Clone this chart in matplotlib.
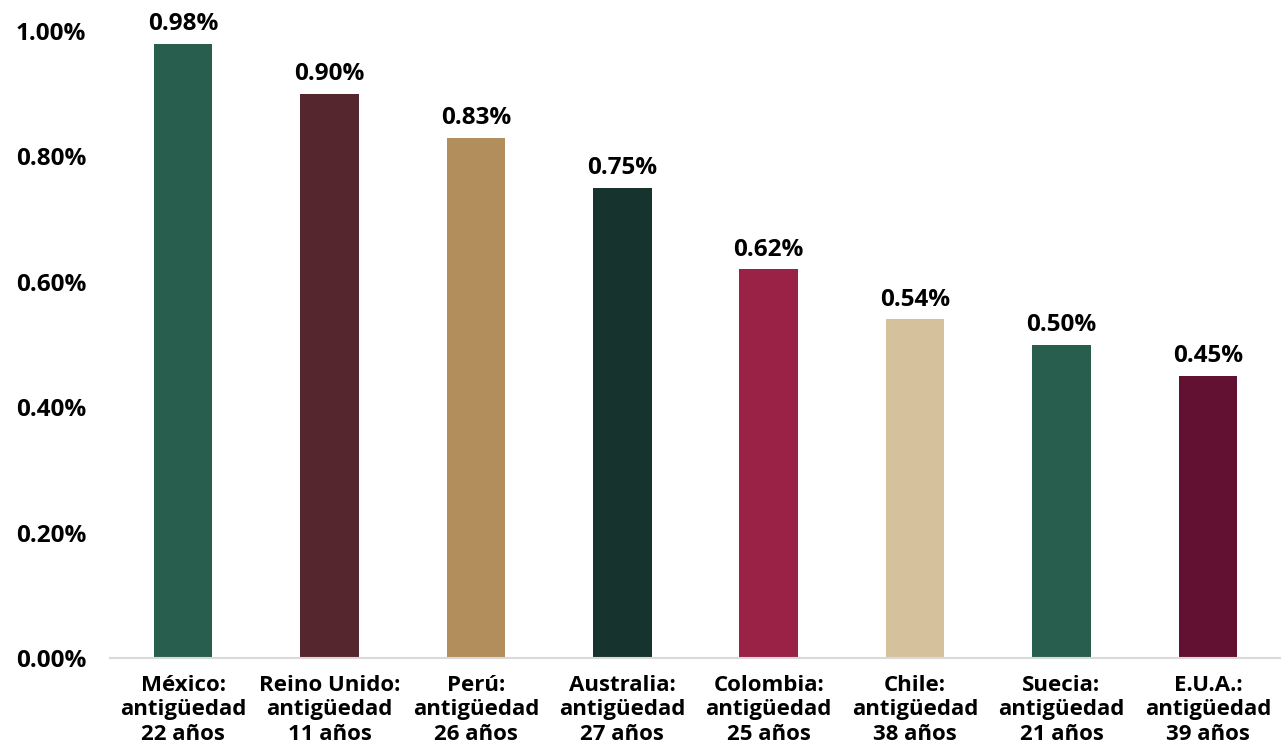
import matplotlib
matplotlib.use("Agg")
import matplotlib.pyplot as plt
from matplotlib.ticker import FuncFormatter

categories = ["México:\nantigüedad\n22 años", "Reino Unido:\nantigüedad\n11 años",
              "Perú:\nantigüedad\n26 años", "Australia:\nantigüedad\n27 años",
              "Colombia:\nantigüedad\n25 años", "Chile:\nantigüedad\n38 años",
              "Suecia:\nantigüedad\n21 años", "E.U.A.:\nantigüedad\n39 años"]
values = [0.98, 0.90, 0.83, 0.75, 0.62, 0.54, 0.50, 0.45]
colors = ["#285E4E", "#56262E", "#B28E5C", "#17332E", "#9B2247", "#D5C29C", "#285E4E", "#621132"]
yticks = [0.0, 0.2, 0.4, 0.6, 0.8, 1.0]

plt.rcParams['font.family'] = ['Open Sans', 'DejaVu Sans']
fig = plt.figure(figsize=(12.81, 7.49), dpi=100)
ax = fig.add_axes([110/1281, 91/749, 1171/1281, 627/749])
x = range(len(values))
bars = ax.bar(x, values, width=0.4, color=colors)
for xi, v in zip(x, values):
    ax.text(xi, v + 0.012, f"{v:.2f}%", ha='center', va='bottom', fontsize=17.5,
            fontweight='bold', clip_on=False)
ax.set_xlim(-0.5, 7.5)
ax.set_ylim(0, 1.0)
ax.set_yticks(yticks)
ax.yaxis.set_major_formatter(FuncFormatter(lambda v, p: f"{v:.2f}%"))
ax.set_xticks(list(x))
ax.set_xticklabels(categories, fontsize=16, fontweight='bold', linespacing=1.22)
for lab in ax.get_yticklabels():
    lab.set_fontsize(17.5)
    lab.set_fontweight('bold')
ax.tick_params(axis='both', length=0)
ax.tick_params(axis='y', pad=17)
ax.tick_params(axis='x', pad=12)
for s in ['top', 'right', 'left']:
    ax.spines[s].set_visible(False)
ax.spines['bottom'].set_color('#D9D9D9')
ax.spines['bottom'].set_linewidth(1.5)
fig.savefig("out.png", dpi=100)
